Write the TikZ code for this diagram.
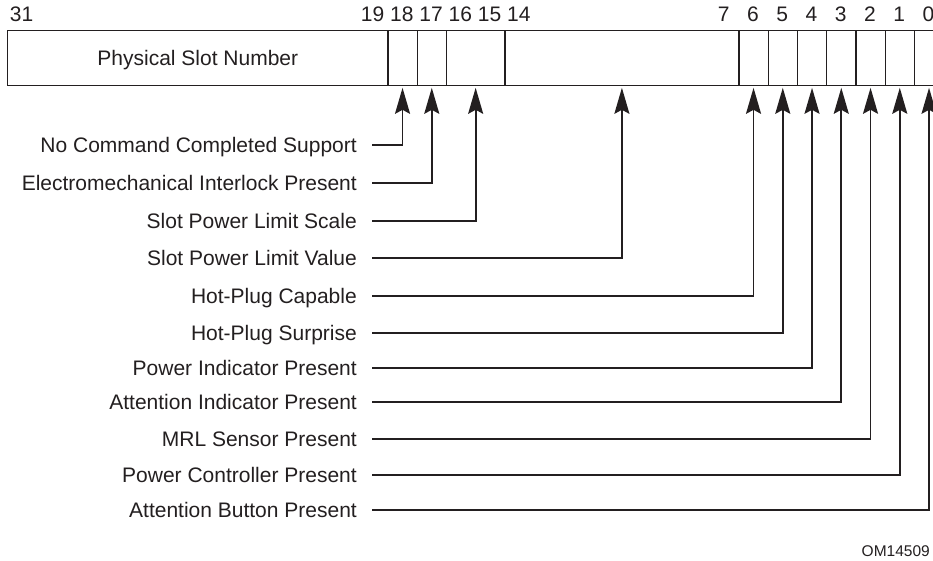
\documentclass[tikz,border=0pt]{standalone}
\usepackage{fontspec}
\setmainfont{Liberation Sans}
\usetikzlibrary{arrows.meta}
\definecolor{ink}{RGB}{35,31,32}
\begin{document}
\begin{tikzpicture}[x=1pt,y=-1pt,
  field/.style={draw=ink, line width=1.3pt, minimum height=55pt, inner sep=0pt, anchor=north west,
    font=\fontsize{21}{25}\selectfont, text=ink, text height=15pt, text depth=0pt},
  bitnum/.style={anchor=base, font=\fontsize{21}{25}\selectfont, inner sep=0pt, text=ink},
  lbl/.style={anchor=east, font=\fontsize{21}{25}\selectfont, text height=15pt, text depth=0pt, inner sep=0pt, text=ink},
  conn/.style={draw=ink, line width=1.8pt, line join=miter, -{Stealth[length=26pt,width=15pt,inset=4pt]}, shorten >=1.5pt},
  tag/.style={anchor=base west, font=\fontsize{15.5}{18}\selectfont, inner sep=0pt, text=ink}]
\useasboundingbox (0,0) rectangle (933,560);
\clip (0,0) rectangle (933,560);
% register fields
\node[field, minimum width=380.25pt] (f3119) at (7,30) {Physical Slot Number};
\node[field, minimum width=29.25pt] (f18) at (387.25,30) {};
\node[field, minimum width=29.25pt] (f17) at (416.5,30) {};
\node[field, minimum width=58.5pt] (f1615) at (445.75,30) {};
\node[field, minimum width=234pt] (f147) at (504.25,30) {};
\foreach \b in {6,5,4,3,2,1,0}
  \node[field, minimum width=29.25pt] (f\b) at ({943-(\b+1)*29.25},30) {};
% bit numbers
\foreach \b in {31,19,18,17,16,15,14,7,6,5,4,3,2,1,0}
  \node[bitnum] (n\b) at ({943-(\b+0.5)*29.25},21.5) {\b};
% labels
\node[lbl] (l1) at (357,145) {No Command Completed Support};
\node[lbl] (l2) at (357,182.7) {Electromechanical Interlock Present};
\node[lbl] (l3) at (357,221) {Slot Power Limit Scale};
\node[lbl] (l4) at (357,258.3) {Slot Power Limit Value};
\node[lbl] (l5) at (357,296) {Hot-Plug Capable};
\node[lbl] (l6) at (357,332.7) {Hot-Plug Surprise};
\node[lbl] (l7) at (357,368.3) {Power Indicator Present};
\node[lbl] (l8) at (357,402.3) {Attention Indicator Present};
\node[lbl] (l9) at (357,438.7) {MRL Sensor Present};
\node[lbl] (l10) at (357,475) {Power Controller Present};
\node[lbl] (l11) at (357,510) {Attention Button Present};
% connectors
\draw[conn] ([xshift=15pt]l1.east) -| (f18.south);
\draw[conn] ([xshift=15pt]l2.east) -| (f17.south);
\draw[conn] ([xshift=15pt]l3.east) -| (f1615.south);
\draw[conn] ([xshift=15pt]l4.east) -| (f147.south);
\draw[conn] ([xshift=15pt]l5.east) -| (f6.south);
\draw[conn] ([xshift=15pt]l6.east) -| (f5.south);
\draw[conn] ([xshift=15pt]l7.east) -| (f4.south);
\draw[conn] ([xshift=15pt]l8.east) -| (f3.south);
\draw[conn] ([xshift=15pt]l9.east) -| (f2.south);
\draw[conn] ([xshift=15pt]l10.east) -| (f1.south);
\draw[conn] ([xshift=15pt]l11.east) -| (f0.south);
% figure tag
\node[tag] (om) at (861.5,556) {OM14509};
\end{tikzpicture}
\end{document}
